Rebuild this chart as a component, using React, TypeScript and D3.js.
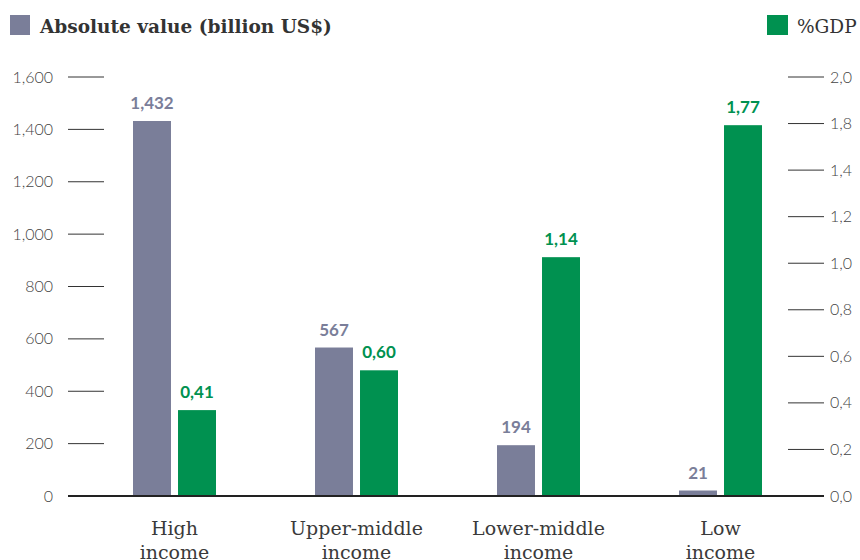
import * as d3 from "d3";
import { useEffect, useRef } from "react";

const categories = ["High income", "Upper-middle income", "Lower-middle income", "Low income"];
const absoluteValues = [1432, 567, 194, 21];
const gdpShares = [0.41, 0.6, 1.14, 1.77];
const leftTicks = [0, 200, 400, 600, 800, 1000, 1200, 1400, 1600];
// the right axis labels in the source skip 1,6 and are evenly spaced
const rightTickLabels = ["0,0", "0,2", "0,4", "0,6", "0,8", "1,0", "1,2", "1,4", "1,8", "2,0"];

const GRAY = "#7a7e99";
const GREEN = "#009150";

const App = () => {
  const ref = useRef<SVGSVGElement | null>(null);

  useEffect(() => {
    const svg = d3.select(ref.current);
    svg.selectAll("*").remove();

    const top = 77;
    const bottom = 496;

    const x = d3
      .scaleBand()
      .domain(categories)
      .range([83.5, 811.5])
      .paddingInner(0.544)
      .paddingOuter(0.272);
    const inner = d3.scaleBand().domain(["abs", "pct"]).range([0, x.bandwidth()]).paddingInner(0.156);

    const yLeft = d3.scaleLinear().domain([0, 1600]).range([bottom, top]);
    const yRight = d3.scaleLinear().domain([0, 2]).range([bottom, top]);
    const yRightTicks = d3.scalePoint().domain(rightTickLabels).range([bottom, top]);

    const sans = "Lato, 'Open Sans', sans-serif";
    const serif = "'DejaVu Serif', serif";

    // left axis
    const gl = svg.append("g");
    leftTicks.forEach((t) => {
      gl.append("line")
        .attr("x1", 68)
        .attr("x2", 104)
        .attr("y1", yLeft(t))
        .attr("y2", yLeft(t))
        .attr("stroke", "#333")
        .attr("stroke-width", 1);
      gl.append("text")
        .attr("x", 53)
        .attr("y", yLeft(t))
        .attr("dy", "0.35em")
        .attr("text-anchor", "end")
        .attr("font-family", sans)
        .attr("font-weight", 300)
        .attr("font-size", 16)
        .attr("fill", "#444")
        .text(d3.format(",")(t));
    });

    // right axis
    const gr = svg.append("g");
    rightTickLabels.forEach((t) => {
      const yy = yRightTicks(t) as number;
      gr.append("line")
        .attr("x1", 788)
        .attr("x2", 824)
        .attr("y1", yy)
        .attr("y2", yy)
        .attr("stroke", "#333")
        .attr("stroke-width", 1);
      gr.append("text")
        .attr("x", 830)
        .attr("y", yy)
        .attr("dy", "0.35em")
        .attr("font-family", sans)
        .attr("font-weight", 300)
        .attr("font-size", 16)
        .attr("fill", "#444")
        .text(t);
    });

    // bars
    const groups = svg
      .append("g")
      .selectAll("g")
      .data(categories)
      .join("g")
      .attr("transform", (d) => `translate(${x(d)},0)`);

    groups
      .append("rect")
      .attr("x", inner("abs") as number)
      .attr("width", inner.bandwidth())
      .attr("y", (_, i) => yLeft(absoluteValues[i]))
      .attr("height", (_, i) => bottom - yLeft(absoluteValues[i]))
      .attr("fill", GRAY);

    groups
      .append("rect")
      .attr("x", inner("pct") as number)
      .attr("width", inner.bandwidth())
      .attr("y", (_, i) => yRight(gdpShares[i]))
      .attr("height", (_, i) => bottom - yRight(gdpShares[i]))
      .attr("fill", GREEN);

    groups
      .append("text")
      .attr("x", (inner("abs") as number) + inner.bandwidth() / 2)
      .attr("y", (_, i) => yLeft(absoluteValues[i]) - 12)
      .attr("text-anchor", "middle")
      .attr("font-family", sans)
      .attr("font-weight", 700)
      .attr("font-size", 17)
      .attr("fill", GRAY)
      .text((_, i) => d3.format(",")(absoluteValues[i]));

    groups
      .append("text")
      .attr("x", (inner("pct") as number) + inner.bandwidth() / 2)
      .attr("y", (_, i) => yRight(gdpShares[i]) - 12)
      .attr("text-anchor", "middle")
      .attr("font-family", sans)
      .attr("font-weight", 700)
      .attr("font-size", 17)
      .attr("fill", GREEN)
      .text((_, i) => d3.format(".2f")(gdpShares[i]).replace(".", ","));

    // baseline
    svg
      .append("line")
      .attr("x1", 68)
      .attr("x2", 824)
      .attr("y1", bottom)
      .attr("y2", bottom)
      .attr("stroke", "#222")
      .attr("stroke-width", 2);

    // category labels
    groups.each(function (d) {
      const words = d.split(" ");
      const t = d3
        .select(this)
        .append("text")
        .attr("text-anchor", "middle")
        .attr("font-family", serif)
        .attr("font-size", 19)
        .attr("fill", "#3a3a3a");
      t.append("tspan").attr("x", x.bandwidth() / 2).attr("y", 535).text(words[0]);
      t.append("tspan").attr("x", x.bandwidth() / 2).attr("y", 559).text(words.slice(1).join(" "));
    });

    // legends
    svg.append("rect").attr("x", 10).attr("y", 15).attr("width", 20).attr("height", 20).attr("fill", GRAY);
    svg
      .append("text")
      .attr("x", 40)
      .attr("y", 33)
      .attr("font-family", serif)
      .attr("font-weight", 700)
      .attr("font-size", 18.5)
      .attr("fill", "#333")
      .text("Absolute value (billion US$)");

    svg.append("rect").attr("x", 767).attr("y", 15).attr("width", 21).attr("height", 20).attr("fill", GREEN);
    svg
      .append("text")
      .attr("x", 797)
      .attr("y", 33)
      .attr("font-family", serif)
      .attr("font-size", 18.5)
      .attr("fill", "#333")
      .text("%GDP");
  }, []);

  return (
    <svg
      ref={ref}
      width={860}
      height={560}
      style={{ position: "absolute", left: 0, top: 0, background: "#fff" }}
    />
  );
};

export default App;
